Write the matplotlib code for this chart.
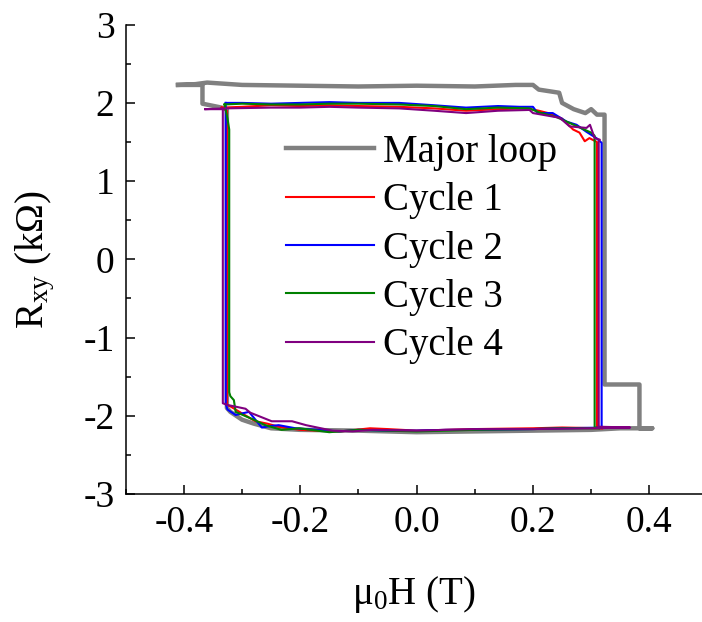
import matplotlib
matplotlib.use('Agg')
import matplotlib.pyplot as plt
from matplotlib.ticker import MultipleLocator, FormatStrFormatter

plt.rcParams['font.family'] = 'Liberation Serif'
plt.rcParams['mathtext.fontset'] = 'custom'
plt.rcParams['mathtext.rm'] = 'Liberation Serif'
plt.rcParams['mathtext.it'] = 'Liberation Serif:italic'
plt.rcParams['axes.unicode_minus'] = False

# major loop (field in T, Rxy in kOhm)
major_h = [-0.41, -0.38, -0.36, -0.30, -0.20, -0.10, 0.00, 0.10, 0.17, 0.20, 0.21,
           0.245, 0.25, 0.27, 0.29, 0.30, 0.31, 0.323, 0.323, 0.383, 0.383, 0.405,
           0.35, 0.30, 0.20, 0.10, 0.00, -0.10, -0.20, -0.25, -0.28, -0.30, -0.32,
           -0.326, -0.326, -0.335, -0.368, -0.368, -0.41]
major_r = [2.23, 2.24, 2.26, 2.23, 2.22, 2.21, 2.22, 2.21, 2.23, 2.23, 2.17,
           2.13, 2.00, 1.92, 1.87, 1.92, 1.85, 1.85, -1.60, -1.60, -2.16, -2.16,
           -2.16, -2.18, -2.19, -2.20, -2.21, -2.19, -2.18, -2.16, -2.10, -2.05, -1.95,
           -1.90, 1.92, 1.94, 1.99, 2.23, 2.23]

# minor cycles
c1_h = [-0.335, -0.30, -0.25, -0.20, -0.15, -0.10, -0.03, 0.03, 0.085, 0.14, 0.19,
        0.21, 0.226, 0.25, 0.269, 0.28, 0.289, 0.297, 0.31, 0.31, 0.32, 0.25, 0.20,
        0.10, 0.05, 0.00, -0.05, -0.08, -0.13, -0.17, -0.20, -0.237, -0.257, -0.277,
        -0.30, -0.32, -0.326, -0.326, -0.335]
c1_r = [1.94, 1.95, 1.97, 1.96, 1.97, 1.96, 1.95, 1.93, 1.90, 1.92, 1.93,
        1.90, 1.87, 1.80, 1.66, 1.62, 1.51, 1.55, 1.50, -2.15, -2.16, -2.15, -2.16,
        -2.17, -2.18, -2.19, -2.17, -2.16, -2.20, -2.19, -2.18, -2.14, -2.10, -2.07,
        -1.97, -1.88, -1.86, 1.90, 1.94]

c2_h = [-0.328, -0.30, -0.25, -0.20, -0.15, -0.10, -0.03, 0.03, 0.085, 0.14, 0.177,
        0.20, 0.208, 0.234, 0.258, 0.275, 0.292, 0.309, 0.318, 0.318, 0.325, 0.25,
        0.20, 0.10, 0.05, 0.00, -0.05, -0.10, -0.133, -0.17, -0.208, -0.237, -0.25,
        -0.266, -0.288, -0.30, -0.311, -0.325, -0.328, -0.328]
c2_r = [2.00, 2.00, 1.99, 2.00, 2.01, 2.00, 2.00, 1.97, 1.94, 1.96, 1.95,
        1.95, 1.87, 1.87, 1.76, 1.72, 1.63, 1.55, 1.49, -2.14, -2.15, -2.16,
        -2.17, -2.18, -2.18, -2.19, -2.19, -2.18, -2.20, -2.18, -2.16, -2.12, -2.13,
        -2.15, -1.95, -1.97, -1.99, -1.92, -1.85, 2.00]

c3_h = [-0.33, -0.30, -0.25, -0.20, -0.15, -0.10, -0.03, 0.03, 0.085, 0.14, 0.194,
        0.21, 0.24, 0.27, 0.30, 0.306, 0.306, 0.315, 0.25, 0.20, 0.10, 0.05, 0.00,
        -0.05, -0.10, -0.15, -0.202, -0.232, -0.26, -0.28, -0.311, -0.314, -0.32,
        -0.322, -0.322, -0.325, -0.33]
c3_r = [1.98, 1.99, 1.98, 1.98, 1.99, 1.99, 1.98, 1.96, 1.92, 1.94, 1.93,
        1.88, 1.82, 1.72, 1.62, 1.58, -2.15, -2.16, -2.16, -2.17, -2.18, -2.19, -2.20,
        -2.19, -2.18, -2.21, -2.16, -2.18, -2.12, -2.05, -1.95, -1.80, -1.75,
        -1.70, 1.66, 1.80, 1.98]

c4_h = [-0.363, -0.33, -0.25, -0.20, -0.15, -0.10, -0.03, 0.03, 0.085, 0.14, 0.194,
        0.20, 0.246, 0.263, 0.292, 0.298, 0.306, 0.315, 0.313, 0.313, 0.367, 0.30,
        0.20, 0.10, 0.05, 0.00, -0.076, -0.11, -0.145, -0.19, -0.214, -0.249,
        -0.286, -0.294, -0.326, -0.333, -0.333, -0.363]
c4_r = [1.92, 1.93, 1.94, 1.94, 1.95, 1.94, 1.93, 1.90, 1.87, 1.90, 1.91,
        1.87, 1.81, 1.70, 1.68, 1.72, 1.55, 1.53, 1.50, -2.14, -2.15, -2.16,
        -2.17, -2.17, -2.18, -2.19, -2.18, -2.20, -2.19, -2.12, -2.07, -2.07,
        -1.96, -1.91, -1.86, -1.84, 1.92, 1.92]

fig = plt.figure(figsize=(7.02, 6.22), dpi=100)
ax = fig.add_axes([0.179, 0.2058, 0.821, 0.7545])

ax.plot(major_h, major_r, color='#808080', lw=3.2, label='Major loop')
ax.plot(c1_h, c1_r, color='red', lw=1.5, label='Cycle 1')
ax.plot(c2_h, c2_r, color='blue', lw=1.5, label='Cycle 2')
ax.plot(c3_h, c3_r, color='green', lw=1.5, label='Cycle 3')
ax.plot(c4_h, c4_r, color='purple', lw=1.5, label='Cycle 4')

ax.set_xlim(-0.5, 0.4905)
ax.set_ylim(-3, 3)
ax.xaxis.set_major_locator(MultipleLocator(0.2))
ax.xaxis.set_minor_locator(MultipleLocator(0.1))
ax.yaxis.set_major_locator(MultipleLocator(1))
ax.yaxis.set_minor_locator(MultipleLocator(0.5))
ax.xaxis.set_major_formatter(FormatStrFormatter('%.1f'))
ax.spines['top'].set_visible(False)
ax.spines['right'].set_visible(False)
for s in ['left', 'bottom']:
    ax.spines[s].set_linewidth(1.1)
ax.tick_params(which='major', direction='in', length=6.5, width=1.1, labelsize=27, pad=8)
ax.tick_params(which='minor', direction='in', length=3.5, width=1.1)

ax.set_xlabel(r'μ$_{\mathrm{0}}$H (T)', fontsize=28, labelpad=25)
ax.set_ylabel(r'R$_{\mathrm{xy}}$ (kΩ)', fontsize=28, labelpad=19)

ax.legend(loc='upper left', bbox_to_anchor=(286 / 702, 1 - 134 / 622),
          bbox_transform=fig.transFigure, frameon=False, fontsize=28,
          borderpad=0, borderaxespad=0, handlelength=2.26, handletextpad=0.23,
          labelspacing=0.29)

fig.savefig('out.png', dpi=100)
